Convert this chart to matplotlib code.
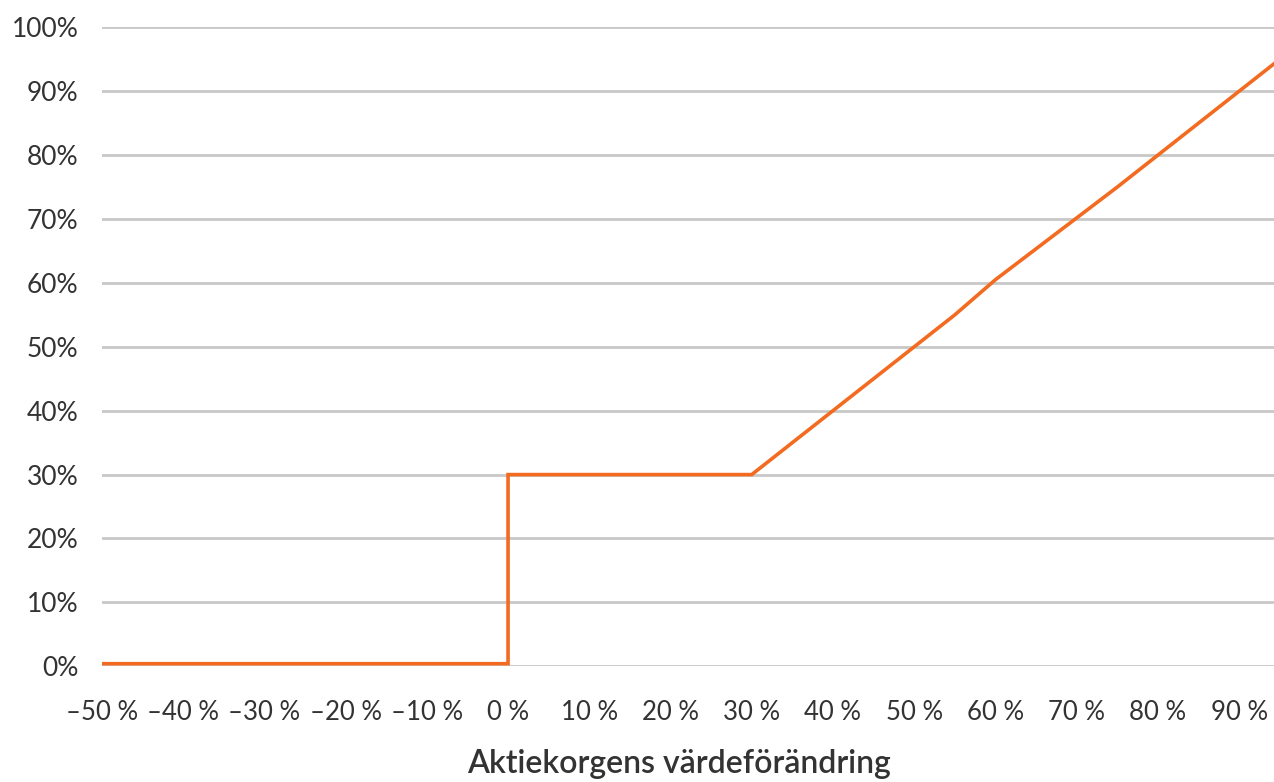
import matplotlib.pyplot as plt

# payoff curve
x_change = [-50, 0, 0, 30, 45, 55, 60, 75, 80, 95]
payoff = [0.4, 0.4, 30, 30, 45, 55, 60.5, 75, 80, 95]

x_ticks = [-50, -40, -30, -20, -10, 0, 10, 20, 30, 40, 50, 60, 70, 80, 90]
x_labels = ['–50 %', '–40 %', '–30 %', '–20 %', '–10 %', '0 %', '10 %', '20 %',
            '30 %', '40 %', '50 %', '60 %', '70 %', '80 %', '90 %']
y_ticks = [0, 10, 20, 30, 40, 50, 60, 70, 80, 90, 100]
y_labels = [f'{v}%' for v in y_ticks]

plt.rcParams['font.family'] = ['Lato', 'DejaVu Sans']

fig = plt.figure(figsize=(12.74, 7.82), dpi=100)
ax = fig.add_axes([0.080, 0.148, 0.920, 0.817])

ax.plot(x_change, payoff, color='#F26B21', linewidth=2.6, solid_joinstyle='miter', zorder=3)

ax.set_xlim(-50, 94.3)
ax.set_ylim(0, 100)
ax.set_xticks(x_ticks)
ax.set_xticklabels(x_labels)
ax.set_yticks(y_ticks)
ax.set_yticklabels(y_labels)
ax.tick_params(length=0, labelcolor='#333333')
ax.tick_params(axis='y', labelsize=19, pad=17)
ax.tick_params(axis='x', labelsize=18.5, pad=24)

ax.grid(axis='y', color='#C8C8C8', linewidth=2)
ax.set_axisbelow(True)
for s in ax.spines.values():
    s.set_visible(False)

fig.text(0.533, 1 - 764 / 782, 'Aktiekorgens värdeförändring', fontsize=23,
         fontweight='semibold', color='#333333', ha='center', va='center')

fig.savefig('out.png', dpi=100)
